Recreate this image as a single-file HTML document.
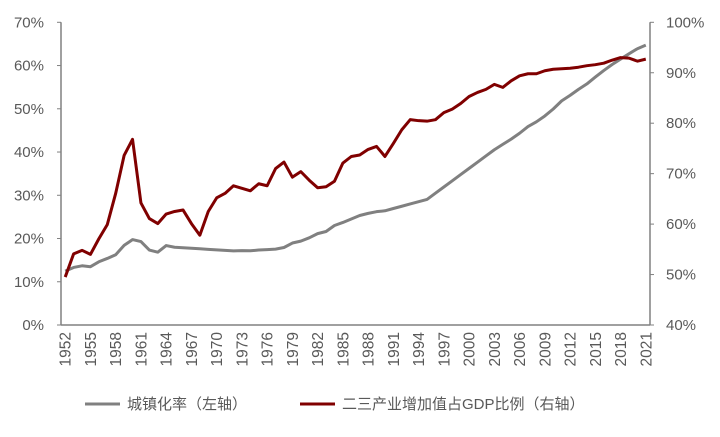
<!DOCTYPE html>
<html><head><meta charset="utf-8"><style>
body{margin:0;background:#fff;}
svg text{font-family:"Liberation Sans","Noto Sans CJK SC",sans-serif;fill:#595959;}
</style></head><body>
<svg width="720" height="432">
<g id="axes"></g><g id="series"></g>
<g>
<line x1="85" y1="404" x2="120" y2="404" stroke="#808080" stroke-width="3"/>
<text x="127" y="409" font-size="15">城镇化率（左轴）</text>
<line x1="300" y1="404" x2="335" y2="404" stroke="#800000" stroke-width="3"/>
<text x="342" y="409" font-size="15">二三产业增加值占GDP比例（右轴）</text>
</g>
</svg>
<script>
const years=[];for(let y=1952;y<=2021;y++)years.push(y);
const urbanization=[12.46,13.31,13.69,13.48,14.62,15.39,16.25,18.41,19.75,19.29,17.33,16.84,18.37,17.98,17.86,17.74,17.62,17.50,17.38,17.26,17.13,17.20,17.16,17.34,17.44,17.55,17.92,18.96,19.39,20.16,21.13,21.62,23.01,23.71,24.52,25.32,25.81,26.21,26.41,26.94,27.46,27.99,28.51,29.04,30.48,31.91,33.35,34.78,36.22,37.66,39.09,40.53,41.76,42.99,44.34,45.89,46.99,48.34,49.95,51.83,53.10,54.49,55.75,57.33,58.84,60.24,61.50,62.71,63.89,64.72];
const primaryShare=[50.5,45.9,45.2,46.0,42.9,40.1,33.9,26.4,23.2,35.8,38.9,39.9,38.0,37.5,37.2,39.9,42.2,37.5,34.8,33.9,32.4,32.9,33.4,32.0,32.4,29.0,27.7,30.7,29.6,31.3,32.8,32.6,31.5,27.9,26.6,26.3,25.2,24.6,26.6,24.0,21.3,19.3,19.5,19.6,19.3,17.9,17.2,16.1,14.7,13.9,13.3,12.3,12.9,11.6,10.6,10.2,10.2,9.6,9.3,9.2,9.1,8.9,8.6,8.4,8.1,7.5,7.0,7.1,7.7,7.3];
const industryShare=primaryShare.map(v=>100-v);
const leftTicks=[0,10,20,30,40,50,60,70];
const rightTicks=[40,50,60,70,80,90,100];
const L=61,R=650,T=22.3,B=325;
const ns='http://www.w3.org/2000/svg';
const step=(R-L)/years.length;
const x=i=>L+step*(i+0.5);
const yL=v=>B-(v-0)/70*(B-T);
const yR=v=>B-(v-40)/60*(B-T);
function mk(t,a,p){const e=document.createElementNS(ns,t);for(const k in a)e.setAttribute(k,a[k]);p.appendChild(e);return e;}
const ax=document.getElementById('axes');
const la=mk('line',{x1:L,y1:T,x2:L,y2:B,stroke:'#808080','stroke-width':1.5},ax);


const ra=mk('line',{x1:R,y1:T,x2:R,y2:B,stroke:'#808080','stroke-width':1.5},ax);


const xa=mk('line',{x1:L,y1:B,x2:R,y2:B,stroke:'#808080','stroke-width':1.5},ax);


leftTicks.forEach(v=>{const y=yL(v);
mk('line',{x1:L-4,y1:y,x2:L,y2:y,stroke:'#808080','stroke-width':1},ax);
const t=mk('text',{x:L-17,y:y+5,'font-size':15,'text-anchor':'end'},ax);t.textContent=v+'%';

});
rightTicks.forEach(v=>{const y=yR(v);
mk('line',{x1:R,y1:y,x2:R+4,y2:y,stroke:'#808080','stroke-width':1},ax);
const t=mk('text',{x:R+16,y:y+5,'font-size':15},ax);t.textContent=v+'%';

});
years.forEach((yr,i)=>{if((yr-1952)%3!==0)return;const cx=x(i);
const t=mk('text',{x:0,y:0,'font-size':15.5,'text-anchor':'end',transform:`translate(${cx+5.5},${B+7}) rotate(-90)`},ax);t.textContent=yr;

});
const sg=document.getElementById('series');
const p1=mk('polyline',{points:urbanization.map((v,i)=>x(i)+','+yL(v)).join(' '),fill:'none',stroke:'#808080','stroke-width':3,'stroke-linejoin':'round'},sg);


const p2=mk('polyline',{points:industryShare.map((v,i)=>x(i)+','+yR(v)).join(' '),fill:'none',stroke:'#800000','stroke-width':3,'stroke-linejoin':'round'},sg);


</script>
</body></html>
